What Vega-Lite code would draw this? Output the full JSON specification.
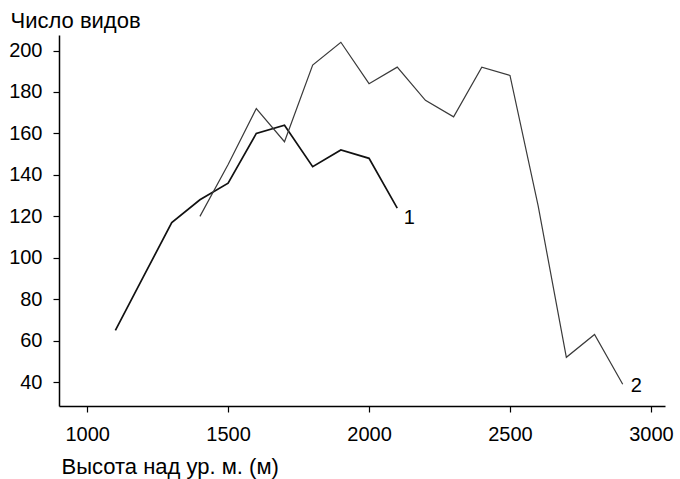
{
  "$schema": "https://vega.github.io/schema/vega-lite/v6.json",
  "autosize": {"type": "none"},
  "width": 606,
  "height": 371,
  "padding": {"left": 59, "top": 35, "right": 15, "bottom": 73},
  "background": "white",
  "config": {
    "view": {"stroke": null},
    "font": "Liberation Sans",
    "axis": {
      "grid": false,
      "domainColor": "black",
      "domainWidth": 1.5,
      "tickColor": "black",
      "tickWidth": 1.2,
      "tickSize": 6,
      "labelFont": "Liberation Sans",
      "labelFontSize": 20,
      "labelColor": "black",
      "titleFont": "Liberation Sans",
      "titleFontSize": 22,
      "titleFontWeight": "normal",
      "titleColor": "black",
      "format": "d"
    }
  },
  "datasets": {
    "lines": [
      {"series": "1", "alt": 1100, "species": 65},
      {"series": "1", "alt": 1200, "species": 91},
      {"series": "1", "alt": 1300, "species": 117},
      {"series": "1", "alt": 1400, "species": 128},
      {"series": "1", "alt": 1500, "species": 136},
      {"series": "1", "alt": 1600, "species": 160},
      {"series": "1", "alt": 1700, "species": 164},
      {"series": "1", "alt": 1800, "species": 144},
      {"series": "1", "alt": 1900, "species": 152},
      {"series": "1", "alt": 2000, "species": 148},
      {"series": "1", "alt": 2100, "species": 124},
      {"series": "2", "alt": 1400, "species": 120},
      {"series": "2", "alt": 1500, "species": 145},
      {"series": "2", "alt": 1600, "species": 172},
      {"series": "2", "alt": 1700, "species": 156},
      {"series": "2", "alt": 1800, "species": 193},
      {"series": "2", "alt": 1900, "species": 204},
      {"series": "2", "alt": 2000, "species": 184},
      {"series": "2", "alt": 2100, "species": 192},
      {"series": "2", "alt": 2200, "species": 176},
      {"series": "2", "alt": 2300, "species": 168},
      {"series": "2", "alt": 2400, "species": 192},
      {"series": "2", "alt": 2500, "species": 188},
      {"series": "2", "alt": 2600, "species": 125},
      {"series": "2", "alt": 2700, "species": 52},
      {"series": "2", "alt": 2800, "species": 63},
      {"series": "2", "alt": 2900, "species": 39}
    ],
    "labels": [
      {"label": "1", "alt": 2143, "species": 119},
      {"label": "2", "alt": 2948, "species": 38.3}
    ]
  },
  "layer": [
    {
      "data": {"name": "lines"},
      "mark": {"type": "line", "strokeJoin": "miter"},
      "encoding": {
        "x": {
          "field": "alt", "type": "quantitative",
          "scale": {"domain": [900, 3050], "nice": false, "zero": false},
          "axis": {
            "values": [1000, 1500, 2000, 2500, 3000],
            "labelPadding": 12,
            "title": "Высота над ур. м. (м)",
            "titleAlign": "left",
            "titleAnchor": "start",
            "titleX": 2,
            "titleY": 67,
            "titleBaseline": "alphabetic"
          }
        },
        "y": {
          "field": "species", "type": "quantitative",
          "scale": {"domain": [28.5, 207.5], "nice": false, "zero": false},
          "axis": {
            "values": [40, 60, 80, 100, 120, 140, 160, 180, 200],
            "labelPadding": 11,
            "title": "Число видов",
            "titleAngle": 0,
            "titleAlign": "left",
            "titleX": -49,
            "titleY": -8,
            "titleBaseline": "alphabetic"
          }
        },
        "color": {
          "field": "series", "type": "nominal",
          "scale": {"domain": ["1", "2"], "range": ["#111111", "#3a3a3a"]},
          "legend": null
        },
        "strokeWidth": {
          "field": "series", "type": "nominal",
          "scale": {"domain": ["1", "2"], "range": [1.7, 1.2]},
          "legend": null
        }
      }
    },
    {
      "data": {"name": "labels"},
      "mark": {"type": "text", "fontSize": 20, "font": "Liberation Sans", "color": "black"},
      "encoding": {
        "x": {"field": "alt", "type": "quantitative"},
        "y": {"field": "species", "type": "quantitative"},
        "text": {"field": "label"}
      }
    }
  ]
}
